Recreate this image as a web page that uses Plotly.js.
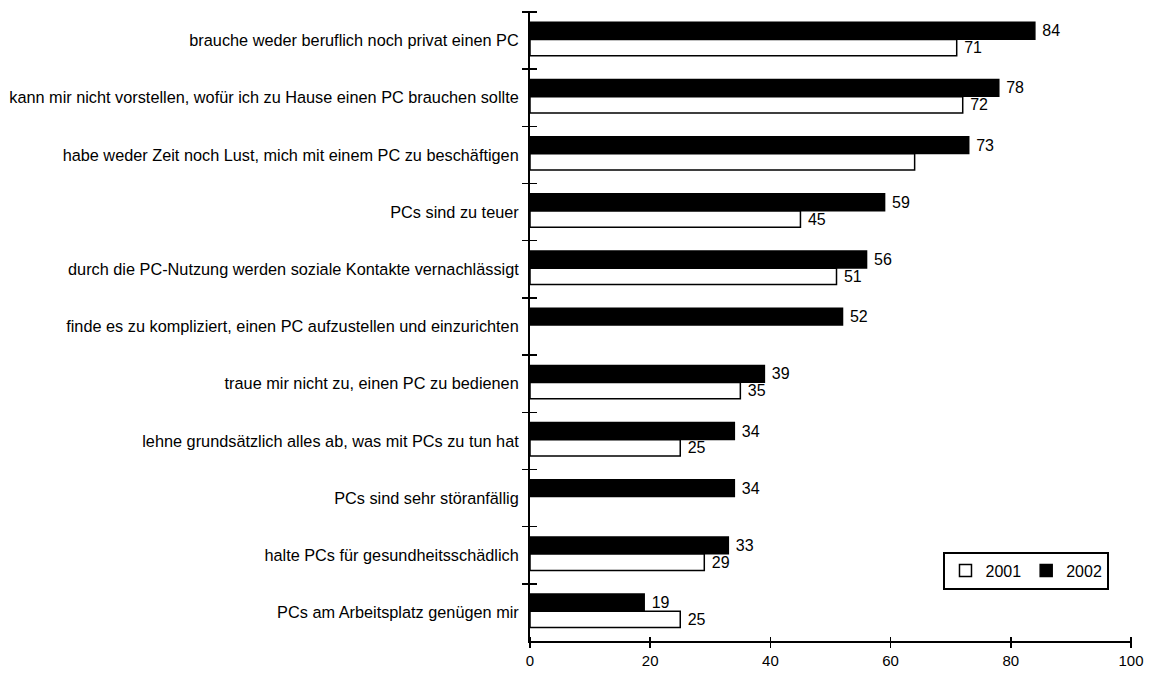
<!DOCTYPE html>
<html>
<head>
<meta charset="utf-8">
<script src="https://cdn.plot.ly/plotly-3.0.1.min.js"></script>
<style>html,body{margin:0;padding:0;background:#fff;}#chart{width:1158px;height:673px;}</style>
</head>
<body>
<div id="chart"></div>
<script>
const categories = [
  "brauche weder beruflich noch privat einen PC",
  "kann mir nicht vorstellen, wofür ich zu Hause einen PC brauchen sollte",
  "habe weder Zeit noch Lust, mich mit einem PC zu beschäftigen",
  "PCs sind zu teuer",
  "durch die PC-Nutzung werden soziale Kontakte vernachlässigt",
  "finde es zu kompliziert, einen PC aufzustellen und einzurichten",
  "traue mir nicht zu, einen PC zu bedienen",
  "lehne grundsätzlich alles ab, was mit PCs zu tun hat",
  "PCs sind sehr störanfällig",
  "halte PCs für gesundheitsschädlich",
  "PCs am Arbeitsplatz genügen mir"
];
const values2002 = [84, 78, 73, 59, 56, 52, 39, 34, 34, 33, 19];
const values2001 = [71, 72, 64, 45, 51, null, 35, 25, null, 29, 25];
const labels2002 = ["84", "78", "73", "59", "56", "52", "39", "34", "34", "33", "19"];
const labels2001 = ["71", "72", "", "45", "51", "", "35", "25", "", "29", "25"];
const xTicks = [0, 20, 40, 60, 80, 100];

const font = "Liberation Sans, Arial, sans-serif";
const n = categories.length;

const traces = [
  {
    type: "bar", orientation: "h", name: "2002",
    y: categories, x: values2002, text: labels2002,
    texttemplate: "\u00a0%{text}",
    textposition: "outside", cliponaxis: false, constraintext: "none",
    textfont: {family: font, size: 16, color: "#000"},
    marker: {color: "#000", line: {color: "#000", width: 1.5}},
    offset: -0.32, width: 0.295,
    xaxis: "x", yaxis: "y", hoverinfo: "x+name"
  },
  {
    type: "bar", orientation: "h", name: "2001",
    y: categories, x: values2001, text: labels2001,
    texttemplate: "\u00a0%{text}",
    textposition: "outside", cliponaxis: false, constraintext: "none",
    textfont: {family: font, size: 16, color: "#000"},
    marker: {color: "#fff", line: {color: "#000", width: 1.5}},
    offset: -0.02, width: 0.285,
    xaxis: "x2", yaxis: "y2", hoverinfo: "x+name"
  }
];

const yCommon = {
  type: "category", categoryorder: "array", categoryarray: categories,
  range: [n - 0.5, -0.5], tickson: "boundaries", tickwidth: 1.5,
  tickcolor: "#000", showgrid: false, zeroline: false, fixedrange: true
};
const xCommon = {
  range: [0, 100], tickmode: "array", tickvals: xTicks, tickwidth: 1.5,
  tickcolor: "#000", showgrid: false, zeroline: false, fixedrange: true
};

const layout = {
  width: 1158, height: 673,
  margin: {l: 530, r: 27, t: 12, b: 32},
  paper_bgcolor: "#fff", plot_bgcolor: "#fff",
  font: {family: font, size: 16, color: "#000"},
  barmode: "overlay",
  showlegend: true,
  xaxis: Object.assign({}, xCommon, {
    ticks: "outside", ticklen: 5, showline: true, linecolor: "#000", linewidth: 2,
    ticktext: xTicks.map(String), tickfont: {family: font, size: 15, color: "#000"}
  }),
  xaxis2: Object.assign({}, xCommon, {
    overlaying: "x", anchor: "free", position: 0.008, ticks: "outside", ticklen: 10,
    showticklabels: false, showline: false
  }),
  yaxis: Object.assign({}, yCommon, {
    ticks: "outside", ticklen: 6, showline: true, linecolor: "#000", linewidth: 2,
    ticklabelstandoff: 6,
    tickfont: {family: font, size: 16.3, color: "#000"}
  }),
  yaxis2: Object.assign({}, yCommon, {
    overlaying: "y", anchor: "free", position: 0.0117, ticks: "outside", ticklen: 13,
    showticklabels: false, showline: false
  }),
  legend: {
    orientation: "h", traceorder: "reversed",
    x: 0.688, y: 0.142, xanchor: "left", yanchor: "top",
    bordercolor: "#000", borderwidth: 2, bgcolor: "#fff",
    font: {family: font, size: 16, color: "#000"},
    itemwidth: 30
  }
};

Plotly.newPlot("chart", traces, layout, {displayModeBar: false, staticPlot: true});
</script>
</body>
</html>
